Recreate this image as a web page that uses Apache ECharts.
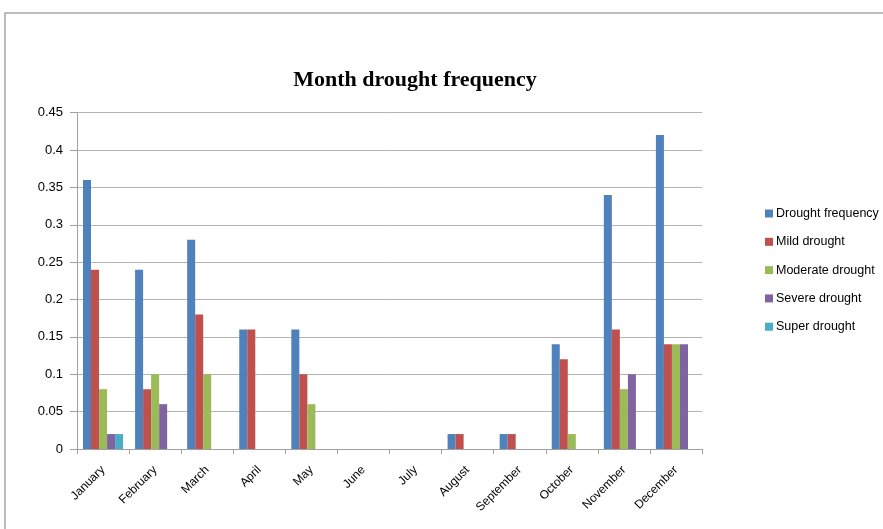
<!DOCTYPE html>
<html>
<head>
<meta charset="utf-8">
<title>Month drought frequency</title>
<script src="https://cdn.jsdelivr.net/npm/echarts@6/dist/echarts.min.js"></script>
<style>
  html, body { margin: 0; padding: 0; background: #ffffff; }
  #chart { width: 883px; height: 529px; }
</style>
</head>
<body>
<div id="chart"></div>
<script>
// Monthly drought frequency by drought grade
const months = ['January', 'February', 'March', 'April', 'May', 'June',
  'July', 'August', 'September', 'October', 'November', 'December'];
const droughtFrequency = [0.36, 0.24, 0.28, 0.16, 0.16, 0, 0, 0.02, 0.02, 0.14, 0.34, 0.42];
const mildDrought      = [0.24, 0.08, 0.18, 0.16, 0.10, 0, 0, 0.02, 0.02, 0.12, 0.16, 0.14];
const moderateDrought  = [0.08, 0.10, 0.10, 0,    0.06, 0, 0, 0,    0,    0.02, 0.08, 0.14];
const severeDrought    = [0.02, 0.06, 0,    0,    0,    0, 0, 0,    0,    0,    0.10, 0.14];
const superDrought     = [0.02, 0,    0,    0,    0,    0, 0, 0,    0,    0,    0,    0];
const yTicks = { min: 0, max: 0.45, step: 0.05 };

const seriesDefs = [
  { name: 'Drought frequency', data: droughtFrequency, color: '#4F81BD' },
  { name: 'Mild drought',      data: mildDrought,      color: '#C0504D' },
  { name: 'Moderate drought',  data: moderateDrought,  color: '#9BBB59' },
  { name: 'Severe drought',    data: severeDrought,    color: '#8064A2' },
  { name: 'Super drought',     data: superDrought,     color: '#4BACC6' }
];

const chart = echarts.init(document.getElementById('chart'), null, { renderer: 'canvas' });

const labelFont = '"Liberation Sans", Arial, sans-serif';

chart.setOption({
  animation: false,
  backgroundColor: '#ffffff',
  title: {
    text: 'Month drought frequency',
    left: 410,
    top: 64,
    textAlign: 'center',
    textStyle: {
      fontFamily: '"Liberation Serif", "Times New Roman", serif',
      fontWeight: 'bold',
      fontSize: 22,
      color: '#000000'
    }
  },
  legend: {
    orient: 'vertical',
    left: 765,
    top: 207,
    padding: 0,
    itemWidth: 8,
    itemHeight: 8,
    itemGap: 15.3,
    icon: 'rect',
    textStyle: {
      fontFamily: labelFont,
      fontSize: 12.5,
      color: '#000000',
      padding: [0, 0, 0, -2]
    },
    data: seriesDefs.map(s => s.name)
  },
  graphic: [
    {
      type: 'polyline',
      shape: { points: [[5, 529], [5, 13], [883, 13]] },
      style: { stroke: '#a6a6a6', lineWidth: 1.5, fill: null },
      silent: true
    }
  ],
  grid: {
    left: 77,
    right: 181,
    top: 112.7,
    bottom: 80,
    containLabel: false
  },
  xAxis: {
    type: 'category',
    data: months,
    boundaryGap: true,
    axisLine: { show: true, lineStyle: { color: '#a0a0a0', width: 1 } },
    axisTick: { show: true, alignWithLabel: false, length: 5, lineStyle: { color: '#a0a0a0' } },
    axisLabel: {
      interval: 0,
      rotate: 45,
      margin: 19,
      fontFamily: labelFont,
      fontSize: 12,
      color: '#000000'
    }
  },
  yAxis: {
    type: 'value',
    min: yTicks.min,
    max: yTicks.max,
    interval: yTicks.step,
    axisLine: { show: true, lineStyle: { color: '#a0a0a0', width: 1 } },
    axisTick: { show: true, length: 7, lineStyle: { color: '#a0a0a0' } },
    axisLabel: {
      margin: 14,
      fontFamily: labelFont,
      fontSize: 13,
      color: '#000000',
      formatter: v => String(+v.toFixed(2))
    },
    splitLine: { show: true, lineStyle: { color: '#b4b4b4', width: 1 } }
  },
  series: seriesDefs.map(s => ({
    name: s.name,
    type: 'bar',
    data: s.data,
    barGap: '0%',
    barCategoryGap: '23%',
    itemStyle: { color: s.color },
    emphasis: { disabled: true }
  }))
});
</script>
</body>
</html>
